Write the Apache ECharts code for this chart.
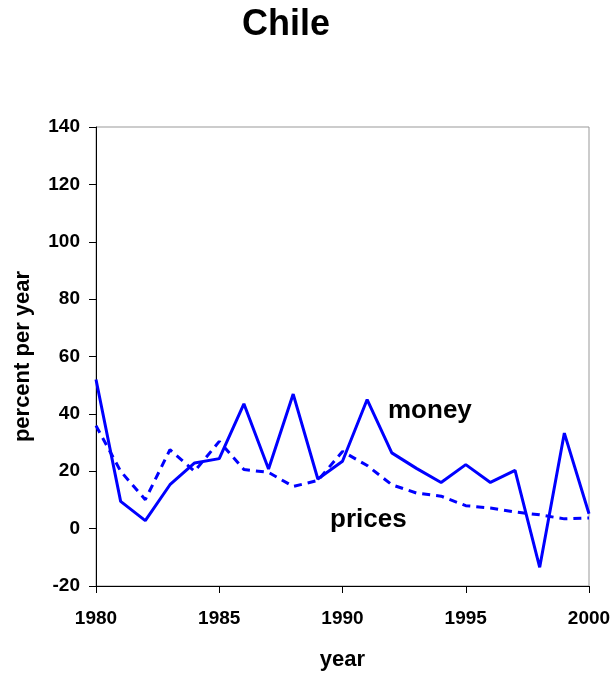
<!DOCTYPE html>
<html><head><meta charset="utf-8">
<script src="https://cdn.jsdelivr.net/npm/echarts@6/dist/echarts.min.js"></script>
<style>html,body{margin:0;padding:0;background:#fff}#c{width:615px;height:677px}</style>
</head><body><div id="c"></div>
<script>
var years = [1980,1981,1982,1983,1984,1985,1986,1987,1988,1989,1990,1991,1992,1993,1994,1995,1996,1997,1998,1999,2000];
var money = [52,9.5,2.8,15.3,22.9,24.4,43.5,20.8,46.9,17.3,23.5,45,26.4,21,16.1,22.3,16.1,20.3,-13.5,33.3,5.2];
var prices = [35.9,20,10.1,27.5,20,30.4,20.6,19.6,14.7,16.8,26.9,22,15.3,12.4,11.3,8,7.2,5.8,4.8,3.4,3.7];
var yTicks = [-20,0,20,40,60,80,100,120,140];
var xTicks = [1980,1985,1990,1995,2000];

function pairs(v){ return years.map(function(y,i){ return [y, v[i]]; }); }
var font = 'Liberation Sans, Arial, sans-serif';
var chart = echarts.init(document.getElementById('c'));
chart.setOption({
  animation:false,
  backgroundColor:'#fff',
  title:{text:'Chile', left:281, textAlign:'center', top:2,
    textStyle:{fontFamily:font, fontSize:36, fontWeight:'bold', color:'#000'}},
  grid:{left:96, right:26, top:127, bottom:91, containLabel:false, outerBoundsMode:'none',
    show:true, borderColor:'#999', borderWidth:1},
  xAxis:{type:'value', min:xTicks[0], max:xTicks[xTicks.length-1], interval:5,
    name:'year', nameLocation:'middle', nameGap:63,
    nameTextStyle:{fontFamily:font, fontSize:22, fontWeight:'bold', color:'#000'},
    axisLine:{show:true, onZero:false, lineStyle:{color:'#000', width:1}},
    axisTick:{show:true, inside:false, length:7, lineStyle:{color:'#000'}},
    splitLine:{show:false},
    axisLabel:{fontFamily:font, fontSize:19, fontWeight:'bold', color:'#000', margin:23,
      formatter:function(v){ return String(v); }}},
  yAxis:{type:'value', min:yTicks[0], max:yTicks[yTicks.length-1], interval:20,
    name:'percent per year', nameLocation:'middle', nameGap:62, nameRotate:90,
    nameTextStyle:{fontFamily:font, fontSize:22, fontWeight:'bold', color:'#000'},
    axisLine:{show:true, onZero:false, lineStyle:{color:'#000', width:1}},
    axisTick:{show:true, inside:false, length:7, lineStyle:{color:'#000'}},
    splitLine:{show:false},
    axisLabel:{fontFamily:font, fontSize:19, fontWeight:'bold', color:'#000', margin:16}},
  series:[
    {name:'money', type:'line', data:pairs(money), symbol:'none',
      lineStyle:{color:'#0000ff', width:3}},
    {name:'prices', type:'line', data:pairs(prices), symbol:'none',
      lineStyle:{color:'#0000ff', width:3, type:[8,6]}}
  ],
  graphic:[
    {type:'text', left:388, top:398, style:{text:'money', font:'bold 26px '+font, fill:'#000'}},
    {type:'text', left:330, top:507, style:{text:'prices', font:'bold 26px '+font, fill:'#000'}}
  ]
});
</script></body></html>
